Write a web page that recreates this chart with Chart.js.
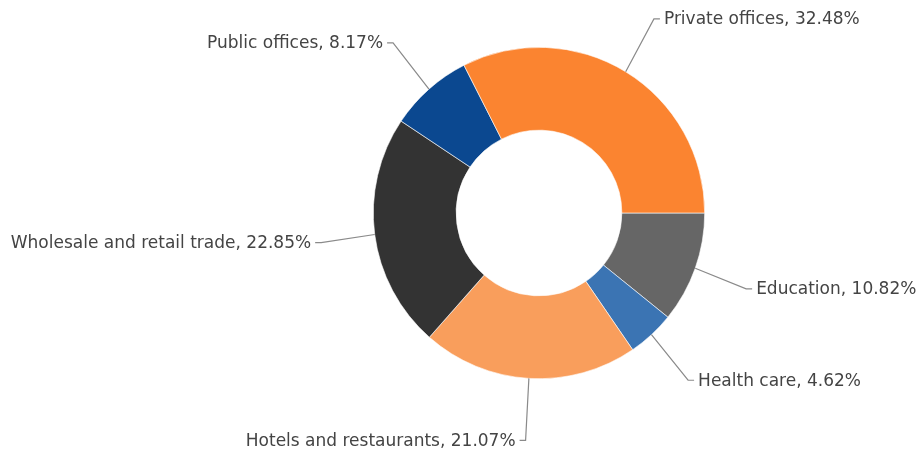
<!DOCTYPE html>
<html>
<head>
<meta charset="utf-8">
<script src="https://cdn.jsdelivr.net/npm/chart.js@4/dist/chart.umd.min.js"></script>
<style>
  html, body { margin: 0; padding: 0; background: #fff; }
  #wrap { width: 921px; height: 450px; position: relative; }
</style>
</head>
<body>
<div id="wrap"><canvas id="donut"></canvas></div>
<script>
// clockwise from 3 o'clock
const setores = ['Education', 'Health care', 'Hotels and restaurants', 'Wholesale and retail trade', 'Public offices', 'Private offices'];
const percentuais = [10.82, 4.62, 21.07, 22.85, 8.17, 32.48];
const cores = ['#666666', '#3b74b3', '#f99e5c', '#333333', '#0b4890', '#fb8430'];

// rotulos externos com linha de ligacao
const rotulosExternos = {
  id: 'rotulosExternos',
  afterDatasetsDraw(chart) {
    const ctx = chart.ctx;
    const meta = chart.getDatasetMeta(0);
    ctx.save();
    ctx.font = '17px "DejaVu Sans", Verdana, sans-serif';
    ctx.textBaseline = 'middle';
    meta.data.forEach((arc, i) => {
      const p = arc.getProps(['x', 'y', 'startAngle', 'endAngle', 'outerRadius'], true);
      const meio = (p.startAngle + p.endAngle) / 2;
      const cos = Math.cos(meio), sin = Math.sin(meio);
      const x0 = p.x + p.outerRadius * cos;
      const y0 = p.y + p.outerRadius * sin;
      const x1 = p.x + (p.outerRadius + 54) * cos;
      const y1 = p.y + (p.outerRadius + 62) * sin;
      const lado = cos >= 0 ? 1 : -1;
      const x2 = x1 + lado * 6;

      ctx.strokeStyle = '#8a8a8a';
      ctx.lineWidth = 1.2;
      ctx.beginPath();
      ctx.moveTo(x0, y0);
      ctx.lineTo(x1, y1);
      ctx.lineTo(x2, y1);
      ctx.stroke();

      ctx.fillStyle = '#444444';
      ctx.textAlign = lado > 0 ? 'left' : 'right';
      const texto = setores[i] + ', ' + percentuais[i].toFixed(2) + '%';
      ctx.fillText(texto, x2 + lado * 4, y1 + 1);
    });
    ctx.restore();
  }
};

new Chart(document.getElementById('donut'), {
  type: 'doughnut',
  data: {
    labels: setores,
    datasets: [{
      data: percentuais,
      backgroundColor: cores,
      borderColor: '#ffffff',
      borderWidth: 0.6
    }]
  },
  options: {
    responsive: true,
    maintainAspectRatio: false,
    animation: false,
    rotation: 90,
    cutout: '50%',
    layout: { padding: { top: 47, bottom: 71, left: 300, right: 143 } },
    plugins: {
      legend: { display: false },
      tooltip: { enabled: false }
    }
  },
  plugins: [rotulosExternos]
});
</script>
</body>
</html>
